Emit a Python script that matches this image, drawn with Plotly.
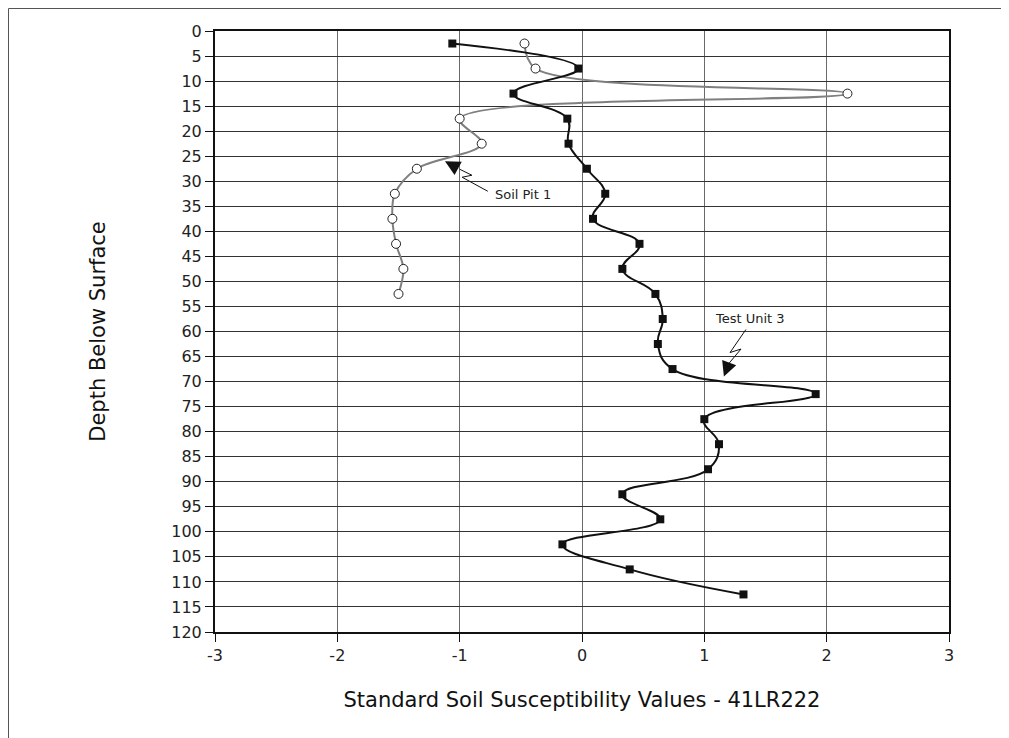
import plotly.graph_objects as go

depth_test = [2.5, 7.5, 12.5, 17.5, 22.5, 27.5, 32.5, 37.5, 42.5, 47.5, 52.5, 57.5,
              62.5, 67.5, 72.5, 77.5, 82.5, 87.5, 92.5, 97.5, 102.5, 107.5, 112.5]
test_unit3 = [-1.06, -0.03, -0.56, -0.12, -0.11, 0.04, 0.19, 0.09, 0.47, 0.33, 0.60, 0.66,
              0.62, 0.74, 1.91, 1.00, 1.12, 1.03, 0.33, 0.64, -0.16, 0.39, 1.32]

depth_pit = [2.5, 7.5, 12.5, 17.5, 22.5, 27.5, 32.5, 37.5, 42.5, 47.5, 52.5]
soil_pit1 = [-0.47, -0.38, 2.17, -1.00, -0.82, -1.35, -1.53, -1.55, -1.52, -1.46, -1.50]

x_ticks = [-3, -2, -1, 0, 1, 2, 3]
y_ticks = list(range(0, 121, 5))

FONT = "'DejaVu Sans', sans-serif"

L, T, PW, PH = 207, 23, 734, 601

fig = go.Figure()
fig.add_trace(go.Scatter(
    x=soil_pit1, y=depth_pit, mode="lines+markers", name="Soil Pit 1",
    line=dict(color="#7f7f7f", width=2, shape="spline", smoothing=1.0),
    marker=dict(symbol="circle", size=9, color="white", line=dict(color="#222", width=1)),
    showlegend=False, hoverinfo="x+y"))
fig.add_trace(go.Scatter(
    x=test_unit3, y=depth_test, mode="lines+markers", name="Test Unit 3",
    line=dict(color="#111", width=2, shape="spline", smoothing=1.2),
    marker=dict(symbol="square", size=8, color="#111"),
    showlegend=False, hoverinfo="x+y"))

# zigzag leader lines
fig.add_trace(go.Scatter(
    x=[-0.77, -0.98, -0.90, -1.00], y=[32.0, 29.2, 28.8, 27.6],
    mode="lines", line=dict(color="#111", width=1), showlegend=False, hoverinfo="skip"))
fig.add_trace(go.Scatter(
    x=[1.34, 1.21, 1.30, 1.20], y=[59.6, 64.2, 63.5, 66.4],
    mode="lines", line=dict(color="#111", width=1), showlegend=False, hoverinfo="skip"))

fig.add_annotation(x=-1.12, y=26.0, ax=-1.00, ay=27.6, axref="x", ayref="y",
                   xref="x", yref="y", text="", showarrow=True,
                   arrowhead=2, arrowsize=3, arrowwidth=1, arrowcolor="#111")
fig.add_annotation(x=1.16, y=69.0, ax=1.20, ay=66.4, axref="x", ayref="y",
                   xref="x", yref="y", text="", showarrow=True,
                   arrowhead=2, arrowsize=3, arrowwidth=1, arrowcolor="#111")
fig.add_annotation(x=-0.48, y=32.6, xref="x", yref="y", text="Soil Pit 1",
                   showarrow=False, font=dict(family=FONT, size=13, color="#222"))
fig.add_annotation(x=1.37, y=57.4, xref="x", yref="y", text="Test Unit 3",
                   showarrow=False, font=dict(family=FONT, size=13, color="#222"))

# outer border (left and top visible)
bx = (0.5 - L) / PW
by = 1 + (T - 0.5) / PH
fig.add_shape(type="line", xref="paper", yref="paper",
              x0=bx, x1=bx, y0=by, y1=-(738 - T - PH + 5) / PH,
              line=dict(color="#555", width=1))
fig.add_shape(type="line", xref="paper", yref="paper",
              x0=bx, x1=(1010 - L) / PW, y0=by, y1=by,
              line=dict(color="#555", width=1))

fig.update_xaxes(range=[-3, 3], tickvals=x_ticks, ticktext=[str(v) for v in x_ticks],
                 showgrid=True, gridcolor="#6a6a6a", gridwidth=1, zeroline=False,
                 showline=True, linecolor="#111", linewidth=2, mirror=True,
                 ticks="outside", ticklen=8, tickcolor="#111", tickwidth=1,
                 tickfont=dict(family=FONT, size=16, color="#222"),
                 title=dict(text="Standard Soil Susceptibility Values - 41LR222",
                            font=dict(family=FONT, size=21, color="#111"), standoff=28))
fig.update_yaxes(range=[120, 0], tickvals=y_ticks, ticktext=[str(v) for v in y_ticks],
                 showgrid=True, gridcolor="#333", gridwidth=1, zeroline=False,
                 showline=True, linecolor="#111", linewidth=2, mirror=True,
                 ticks="outside", ticklen=8, tickcolor="#111", tickwidth=1,
                 tickfont=dict(family=FONT, size=16, color="#222"),
                 title=dict(text="Depth Below Surface",
                            font=dict(family=FONT, size=21, color="#111"), standoff=60))

fig.update_layout(width=1009, height=738,
                  margin=dict(l=L, r=1009 - L - PW, t=T, b=738 - T - PH),
                  paper_bgcolor="white", plot_bgcolor="white")

fig.write_html("out.html")
